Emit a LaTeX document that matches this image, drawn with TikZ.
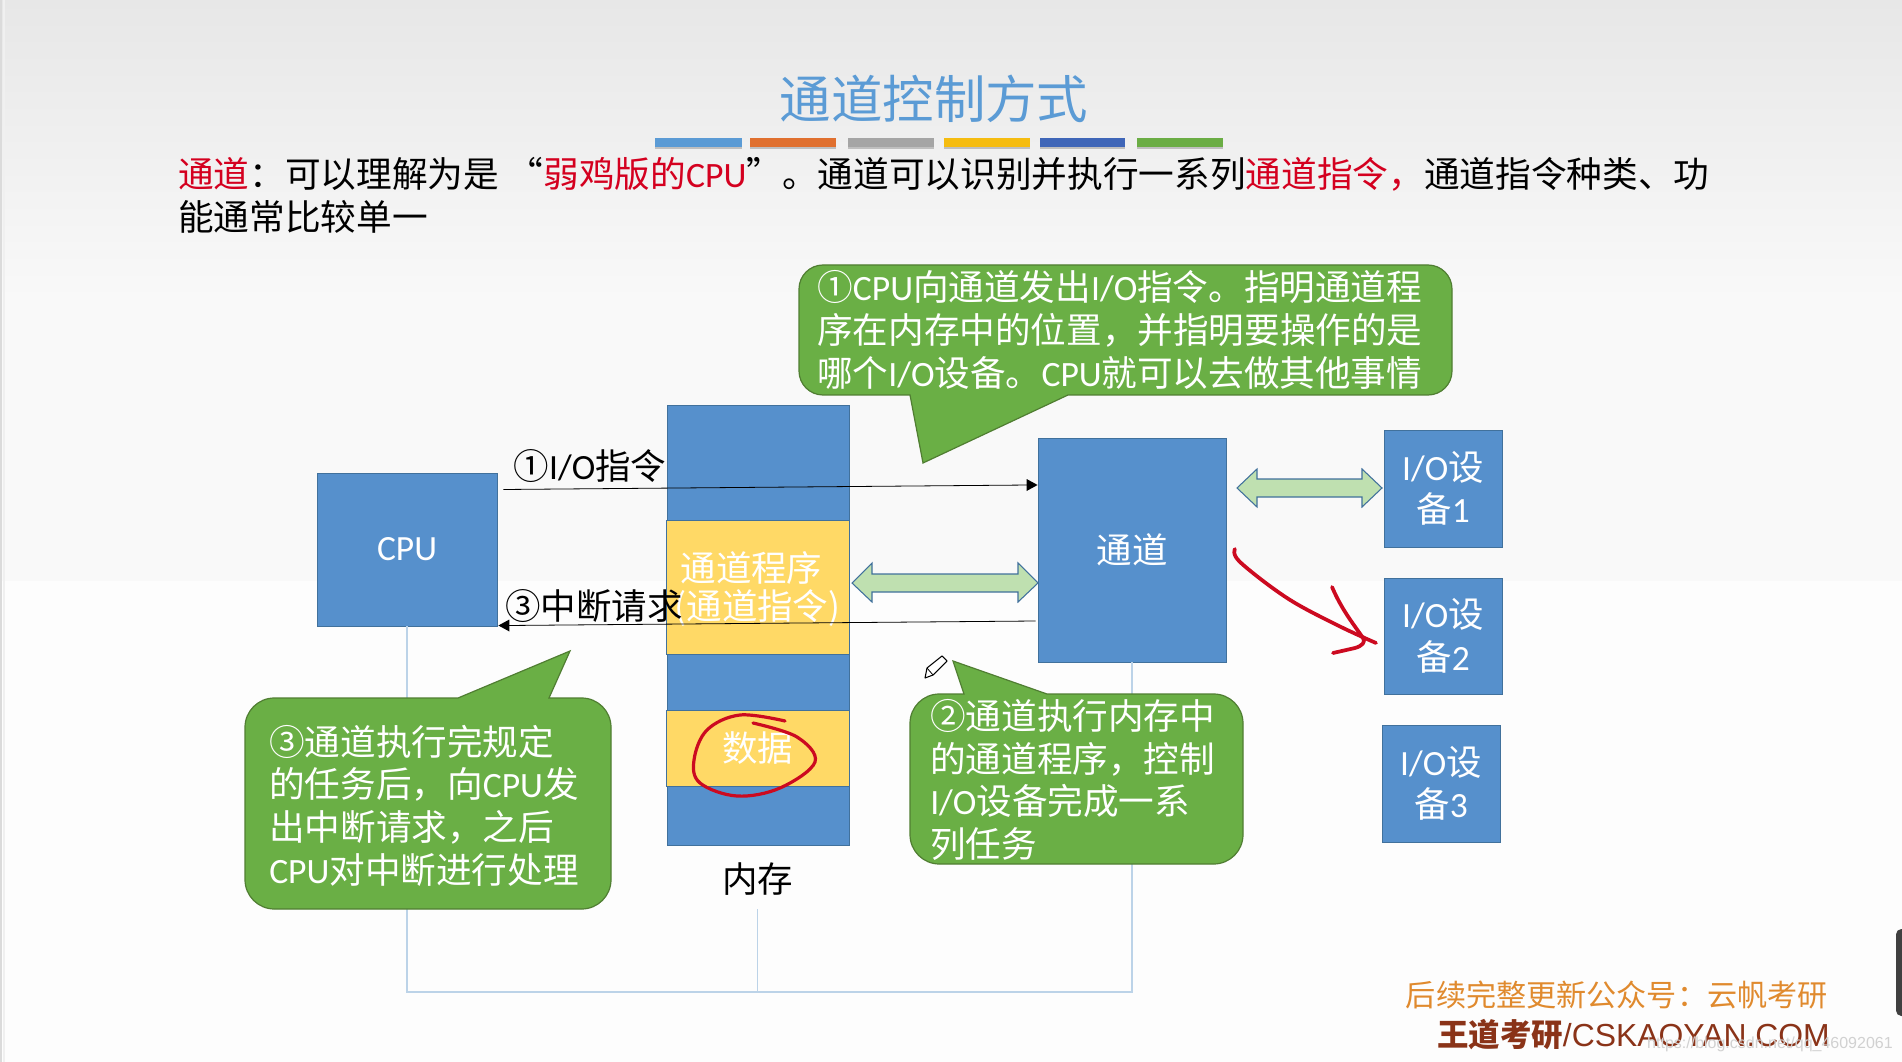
\documentclass[tikz,border=0pt]{standalone}
\usepackage{fontspec}
\setmainfont{Noto Sans CJK SC}
\newfontfamily\latf{Carlito}
\newfontfamily\arialf{Liberation Sans}
\newcommand\lat[1]{{\latf #1}}
\usetikzlibrary{calc}
\definecolor{boxblue}{HTML}{5690CC}
\definecolor{boxline}{HTML}{41719C}
\definecolor{boxyellow}{HTML}{FFD966}
\definecolor{cgreen}{HTML}{6AAF45}
\definecolor{cgreenline}{HTML}{507E32}
\definecolor{lgreen}{HTML}{BFE0B0}
\definecolor{wireblue}{HTML}{BCD3E8}
\definecolor{titleblue}{HTML}{5B9BD5}
\definecolor{redtxt}{HTML}{D4001F}
\definecolor{inkred}{HTML}{CC0A20}
\definecolor{footorange}{HTML}{E08A2E}
\definecolor{footbrown}{HTML}{8A3318}
\definecolor{bgtop}{HTML}{E7E7E7}
\definecolor{bgmid}{HTML}{F9F9F9}
\definecolor{bgbot}{HTML}{FDFDFD}
\tikzset{
  bluebox/.style={draw=boxline,line width=0.6pt,fill=boxblue,text=white,inner sep=0pt,font=\fontsize{26.6}{32}\selectfont,align=center},
  yellowbox/.style={bluebox,fill=boxyellow},
  callout/.style={draw=cgreenline,line width=0.9pt,fill=cgreen},
  ctext/.style={text=white,inner sep=0pt,anchor=west,align=left,font=\fontsize{26.7}{32}\selectfont},
  blacklabel/.style={text=black,inner sep=0pt,font=\fontsize{26.6}{32}\selectfont},
  wire/.style={draw=wireblue,line width=1pt},
  thinarrow/.style={draw=black,line width=0.6pt},
  dblarrow/.style={draw=boxline,line width=0.8pt,fill=lgreen},
  ink/.style={draw=inkred,line width=2.8pt,line cap=round,line join=round},
}
\begin{document}
\begin{tikzpicture}[x=0.75pt,y=-0.75pt]
\useasboundingbox (0,0) rectangle (1902,1062);
% background
\fill[bgbot] (0,0) rectangle (1902,1062);
\shade[top color=bgtop,bottom color=bgmid] (0,0) rectangle (1902,300);
\fill[bgmid] (0,300) rectangle (1902,581);
\fill[black!14] (0,0) rectangle (1.5,1062);
\fill[black!6] (3,0) rectangle (4.5,1062);
\fill[black!75,rounded corners=4pt] (1896,929) rectangle (1910,1016);
% title
\node[inner sep=0pt,text=titleblue,font=\fontsize{38.6}{46}\selectfont] (title) at (934,99) {通道控制方式};
\foreach \a/\b/\c in {655/742/5B9BD5,750/836/E0702F,848/934/A5A5A5,944/1030/F5BC10,1040/1125/3F66B8,1137/1223/6BAD45}{
  \definecolor{barc}{HTML}{\c}
  \fill[black!25] (\a,142) rectangle (\b,149.5);
  \fill[barc] (\a,138.5) rectangle (\b,147);
}
% body
\node[inner sep=0pt,anchor=north west,align=left,font=\fontsize{26.75}{32.2}\selectfont] (body) at (178,157)
 {\textcolor{redtxt}{通道}：可以理解为是\kern6.4pt“\textcolor{redtxt}{弱鸡版的\lat{CPU}}”。通道可以识别并执行一系列\textcolor{redtxt}{通道指令，}通道指令种类、功\\能通常比较单一};
% nodes
\node[bluebox,minimum width=180*0.75pt,minimum height=153*0.75pt] (cpu) at (407,549.5) {\lat{CPU}};
\node[bluebox,minimum width=182*0.75pt,minimum height=440*0.75pt] (mem) at (758,625) {};
\node[yellowbox,minimum width=183*0.75pt,minimum height=134*0.75pt] (prog) at (757.5,587) {};
\node[text=white,inner sep=0pt,align=center,font=\fontsize{26.6}{32}\selectfont] (progtext) at (757.5,589)
  {通道程序\kern9pt\\[-3.6pt](通道指令)};
\node[yellowbox,minimum width=183*0.75pt,minimum height=76*0.75pt] (data) at (757.5,748) {数据};
\node[bluebox,minimum width=188*0.75pt,minimum height=224*0.75pt] (chan) at (1132,550) {\raisebox{1pt}{通道}};
\node[bluebox,minimum width=118*0.75pt,minimum height=117*0.75pt] (ioa) at (1443,488.5) {\lat{I/O}设\\备\lat{1}};
\node[bluebox,minimum width=118*0.75pt,minimum height=116*0.75pt] (iob) at (1443,636) {\lat{I/O}设\\备\lat{2}};
\node[bluebox,minimum width=118*0.75pt,minimum height=117*0.75pt] (ioc) at (1441,783.5) {\lat{I/O}设\\备\lat{3}};
\node[blacklabel,minimum height=60*0.75pt] (memlabel) at (757.5,879) {内存};
% wires
\coordinate (bus) at (758,992);
\draw[wire] (cpu.south) -- (cpu.south |- bus) -- (chan.south |- bus) -- (chan.south);
\draw[wire] (memlabel.south) -- (memlabel.south |- bus);
% arrows
\draw[thinarrow] ([shift={(6,-60)}]cpu.east) -- ([shift={(-8,-65)}]chan.west);
\fill[black] ([shift={(0,-65)}]chan.west) -- ++(-11,-6) -- ++(0,12) -- cycle;
\draw[thinarrow] ([shift={(-2,71)}]chan.west) -- ([shift={(10,76)}]cpu.east);
\fill[black] ([shift={(1,76)}]cpu.east) -- ++(11,-6) -- ++(0,12) -- cycle;
\node[blacklabel] (lbla) at (590,466) {①\lat{I/O}指令};
\node[blacklabel] (lblb) at (594,606) {③中断请求};
% double arrows
\draw[dblarrow] (852,583) -- (872,563) -- (872,574) -- (1018,574) -- (1018,563) -- (1038,583) -- (1018,602) -- (1018,592) -- (872,592) -- (872,602) -- cycle;
\draw[dblarrow] (1237,488) -- (1257,469) -- (1257,479) -- (1362,479) -- (1362,469) -- (1382,488) -- (1362,507) -- (1362,497) -- (1257,497) -- (1257,507) -- cycle;
% callouts
\draw[callout] (799,330) [rounded corners=18pt] -- (799,395) [sharp corners] -- (910,395) -- (923,463) -- (1068,395) [rounded corners=18pt] -- (1452,395) -- (1452,265) -- (799,265) -- cycle;
\node[ctext] (ca) at (817,330) {①\lat{CPU}向通道发出\lat{I/O}指令。指明通道程\\序在内存中的位置，并指明要操作的是\\哪个\lat{I/O}设备。\lat{CPU}就可以去做其他事情};
\draw[callout] (245,800) [rounded corners=22pt] -- (245,909) -- (611,909) -- (611,698) [sharp corners] -- (549,698) -- (570,651) -- (458,698) [rounded corners=22pt] -- (245,698) -- cycle;
\node[ctext] (cc) at (269,805.5) {③通道执行完规定\\的任务后，向\lat{CPU}发\\出中断请求，之后\\\lat{CPU}对中断进行处理};
\draw[callout] (910,780) [rounded corners=22pt] -- (910,864) -- (1243,864) -- (1243,694) [sharp corners] -- (1047,694) -- (953,661) -- (964,694) [rounded corners=22pt] -- (910,694) -- cycle;
\node[ctext] (cb) at (930,780) {②通道执行内存中\\的通道程序，控制\\\lat{I/O}设备完成一系\\列任务};
% pencil
\draw[black,line width=0.8pt,fill=white,line join=round] (925,678) -- (927,668) -- (942,656) -- (947,661) -- (933,675) -- cycle;
\draw[black,line width=0.6pt] (927,668) -- (933,675);
% ink
\draw[ink] plot[smooth,tension=0.6] coordinates {(1235,549) (1240,562) (1287,598) (1337,625) (1376,643)};
\draw[ink] (1332,587) .. controls (1342,610) and (1352,622) .. (1363,638) .. controls (1366,642) and (1362,646) .. (1355,648) -- (1333,653);
\draw[ink,line width=2.4pt] plot[smooth,tension=0.6] coordinates {(785,721) (740,715) (707,730) (694,760) (700,783) (737,796) (780,788) (815,762) (797,737) (753,723)};
% footer
\node[inner sep=0pt,anchor=east,text=footorange,font=\fontsize{22.6}{27}\selectfont] (fa) at (1828,995) {后续完整更新公众号：云帆考研};
\node[inner sep=0pt,anchor=east,text=footbrown,font=\fontsize{23.6}{27}\selectfont] (fb) at (1830,1035) {\bfseries 王道考研{\mdseries\arialf\fontsize{23.9}{27}\selectfont /CSKAOYAN.COM}};
\node[inner sep=0pt,anchor=east,text=black!18,font=\arialf\fontsize{12}{15}\selectfont] (wm) at (1893,1044) {https://blog.csdn.net/qq\_46092061};
\end{tikzpicture}
\end{document}
